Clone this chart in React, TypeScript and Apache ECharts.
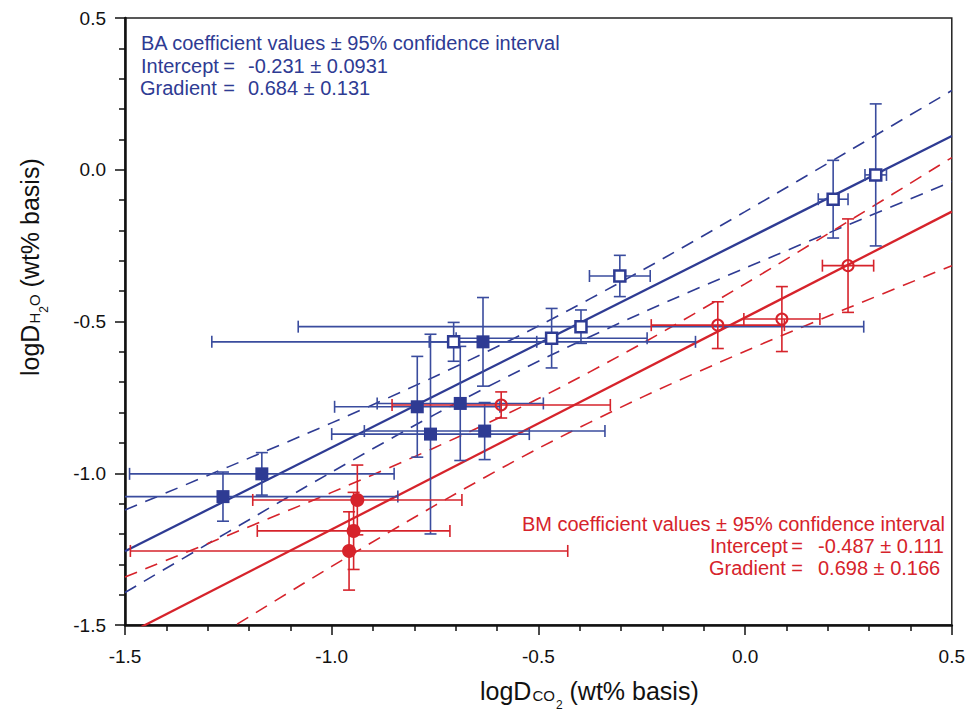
import React, { useEffect, useRef } from 'react';
import * as echarts from 'echarts';

const BLUE = '#2e3b93';
const BLUE_BAR = '#3a4c9e';
const RED = '#d6232b';
const FONT = '"Liberation Sans", Arial, sans-serif';

// Axis ticks
const xMin = -1.5, xMax = 0.5, yMin = -1.5, yMax = 0.5, tickStep = 0.5;

// BA filled squares: x, y, x-error, y-error
const baFilledX = [-1.263, -1.169, -0.793, -0.689, -0.761, -0.630, -0.634];
const baFilledY = [-1.077, -1.002, -0.781, -0.770, -0.871, -0.861, -0.567];
const baFilledXErr = [0.423, 0.320, 0.200, 0.201, 0.239, 0.291, 0.130];
const baFilledYErr = [0.081, 0.070, 0.166, 0.188, 0.329, 0.094, 0.146];

// BA open squares
const baOpenX = [-0.705, -0.468, -0.397, -0.303, 0.213, 0.316];
const baOpenY = [-0.567, -0.555, -0.517, -0.350, -0.097, -0.017];
const baOpenXErr = [0.585, 0.231, 0.684, 0.0735, 0.036, 0.026];
const baOpenYErr = [0.064, 0.098, 0.055, 0.068, 0.128, 0.234];

// BM filled circles
const bmFilledX = [-0.938, -0.947, -0.958];
const bmFilledY = [-1.088, -1.190, -1.256];
const bmFilledXErr = [0.253, 0.233, 0.529];
const bmFilledYErr = [0.115, 0.127, 0.129];

// BM open circles
const bmOpenX = [-0.590, -0.066, 0.089, 0.249];
const bmOpenY = [-0.775, -0.512, -0.492, -0.316];
const bmOpenXErr = [0.264, 0.161, 0.092, 0.062];
const bmOpenYErr = [0.043, 0.077, 0.107, 0.154];

// Regression coefficients (as printed)
const baIntercept = -0.231, baGradient = 0.684;
const bmIntercept = -0.487, bmGradient = 0.698;

// 95% confidence bands
const bandX = [-1.5, -1.25, -1.0, -0.75, -0.5, -0.25, 0, 0.25, 0.5];
const baUpper = [-1.121, -0.979, -0.834, -0.681, -0.515, -0.332, -0.138, 0.061, 0.261];
const baLower = [-1.393, -1.193, -0.996, -0.806, -0.631, -0.472, -0.324, -0.181, -0.039];
const bmUpper = [-1.342, -1.204, -1.063, -0.915, -0.754, -0.573, -0.376, -0.170, 0.040];
const bmLower = [-1.726, -1.515, -1.307, -1.106, -0.918, -0.750, -0.598, -0.455, -0.316];

const zip4 = (a: number[], b: number[], c: number[], d: number[]) => a.map((v, i) => [v, b[i], c[i], d[i]]);
const zip2 = (a: number[], b: number[]) => a.map((v, i) => [v, b[i]]);

const errRender = (color: string) => (params: any, api: any) => {
  const x = api.value(0), y = api.value(1), xe = api.value(2), ye = api.value(3);
  const c = api.coord([x, y]);
  const l = api.coord([x - xe, y]);
  const r = api.coord([x + xe, y]);
  const t = api.coord([x, y + ye]);
  const b = api.coord([x, y - ye]);
  const cap = 6;
  const style = { stroke: color, lineWidth: 1.6, fill: 'none' };
  const ln = (x1: number, y1: number, x2: number, y2: number) => ({ type: 'line', shape: { x1, y1, x2, y2 }, style });
  return {
    type: 'group',
    children: [
      ln(l[0], c[1], r[0], c[1]),
      ln(l[0], c[1] - cap, l[0], c[1] + cap),
      ln(r[0], c[1] - cap, r[0], c[1] + cap),
      ln(c[0], t[1], c[0], b[1]),
      ln(c[0] - cap, t[1], c[0] + cap, t[1]),
      ln(c[0] - cap, b[1], c[0] + cap, b[1]),
    ],
  };
};

export default function App() {
  const ref = useRef<HTMLDivElement>(null);
  useEffect(() => {
    const chart = echarts.init(ref.current!, null, { renderer: 'svg' });
    const ctx = document.createElement('canvas').getContext('2d')!;
    const mw = (t: string, fs: number) => { ctx.font = `${fs}px "Liberation Sans"`; return ctx.measureText(t).width; };

    const titleParts = (parts: { t: string; fs: number; dy: number; gap?: number }[]) => {
      let x = 0;
      return parts.map((p) => {
        const el = {
          type: 'text', x, y: p.dy,
          style: { text: p.t, fontSize: p.fs, fontFamily: FONT, fill: '#111', align: 'left', verticalAlign: 'middle' },
        };
        x += mw(p.t, p.fs) + (p.gap || 0);
        return el;
      });
    };

    const txt = (text: string, x: number, y: number, color: string, align = 'left') => ({
      type: 'text', x, y,
      style: { text, fontSize: 20, fontFamily: FONT, fill: color, align, verticalAlign: 'middle' },
    });

    const regLine = (a: number, g: number) => [[xMin, a + g * xMin], [xMax, a + g * xMax]];
    const axisCommon = {
      axisLine: { show: true, onZero: false, lineStyle: { color: '#111', width: 2.5 } },
      axisTick: { show: true, length: 10, inside: false, lineStyle: { color: '#111', width: 1.5 } },
      minorTick: { show: true, splitNumber: 5, length: 6, lineStyle: { color: '#111', width: 1.5 } },
      splitLine: { show: false },
    };

    const option: any = {
      animation: false,
      backgroundColor: '#fff',
      grid: { left: 125, top: 18, width: 830, height: 607, show: true, borderColor: '#222', borderWidth: 1.5, backgroundColor: 'transparent' },
      xAxis: {
        type: 'value', min: xMin, max: xMax, interval: tickStep, ...axisCommon,
        axisLabel: { formatter: (v: number) => v.toFixed(1), fontSize: 19, fontFamily: FONT, color: '#111', margin: 22 },
      },
      yAxis: {
        type: 'value', min: yMin, max: yMax, interval: tickStep, ...axisCommon,
        axisLabel: { formatter: (v: number) => v.toFixed(1), fontSize: 19, fontFamily: FONT, color: '#111', margin: 19 },
      },
      series: [
        { type: 'line', data: zip2(bandX, baUpper), smooth: 0.3, symbol: 'none', silent: true, clip: true, z: 2, lineStyle: { color: BLUE, width: 1.6, type: [13, 9] } },
        { type: 'line', data: zip2(bandX, baLower), smooth: 0.3, symbol: 'none', silent: true, clip: true, z: 2, lineStyle: { color: BLUE, width: 1.6, type: [13, 9] } },
        { type: 'line', data: zip2(bandX, bmUpper), smooth: 0.3, symbol: 'none', silent: true, clip: true, z: 2, lineStyle: { color: RED, width: 1.6, type: [13, 9] } },
        { type: 'line', data: zip2(bandX, bmLower), smooth: 0.3, symbol: 'none', silent: true, clip: true, z: 2, lineStyle: { color: RED, width: 1.6, type: [13, 9] } },
        { type: 'line', data: regLine(baIntercept, baGradient), symbol: 'none', silent: true, clip: true, z: 3, lineStyle: { color: BLUE, width: 2.3 } },
        { type: 'line', data: regLine(bmIntercept, bmGradient), symbol: 'none', silent: true, clip: true, z: 3, lineStyle: { color: RED, width: 2.3 } },
        { type: 'custom', renderItem: errRender(BLUE_BAR), data: zip4(baFilledX, baFilledY, baFilledXErr, baFilledYErr), encode: { x: 0, y: 1 }, clip: true, silent: true, z: 4 },
        { type: 'custom', renderItem: errRender(BLUE_BAR), data: zip4(baOpenX, baOpenY, baOpenXErr, baOpenYErr), encode: { x: 0, y: 1 }, clip: true, silent: true, z: 4 },
        { type: 'custom', renderItem: errRender(RED), data: zip4(bmFilledX, bmFilledY, bmFilledXErr, bmFilledYErr), encode: { x: 0, y: 1 }, clip: true, silent: true, z: 4 },
        { type: 'custom', renderItem: errRender(RED), data: zip4(bmOpenX, bmOpenY, bmOpenXErr, bmOpenYErr), encode: { x: 0, y: 1 }, clip: true, silent: true, z: 4 },
        { type: 'scatter', data: zip2(baFilledX, baFilledY), symbol: 'rect', symbolSize: 13, silent: true, z: 6, itemStyle: { color: BLUE, opacity: 1 } },
        { type: 'scatter', data: zip2(baOpenX, baOpenY), symbol: 'rect', symbolSize: 11, silent: true, z: 6, itemStyle: { color: '#fff', borderColor: BLUE, borderWidth: 2.5, opacity: 1 } },
        { type: 'scatter', data: zip2(bmFilledX, bmFilledY), symbol: 'circle', symbolSize: 14, silent: true, z: 6, itemStyle: { color: RED, opacity: 1 } },
        { type: 'scatter', data: zip2(bmOpenX, bmOpenY), symbol: 'circle', symbolSize: 11, silent: true, z: 6, itemStyle: { color: 'rgba(0,0,0,0)', borderColor: RED, borderWidth: 2, opacity: 1 } },
      ],
      graphic: [
        txt('BA coefficient values \u00b1 95% confidence interval', 141, 43, BLUE),
        txt('Intercept', 141, 66, BLUE),
        txt('=', 229, 66, BLUE, 'center'),
        txt('-0.231 \u00b1 0.0931', 248, 66, BLUE),
        txt('Gradient', 140, 88, BLUE),
        txt('=', 229, 88, BLUE, 'center'),
        txt('0.684 \u00b1 0.131', 248, 88, BLUE),
        txt('BM coefficient values \u00b1 95% confidence interval', 945, 524, RED, 'right'),
        txt('Intercept', 710, 546, RED),
        txt('=', 797, 546, RED, 'center'),
        txt('-0.487 \u00b1 0.111', 818, 546, RED),
        txt('Gradient', 709, 568, RED),
        txt('=', 797, 568, RED, 'center'),
        txt('0.698 \u00b1 0.166', 818, 568, RED),
        {
          type: 'group', x: 480, y: 691,
          children: titleParts([
            { t: 'logD', fs: 25, dy: 0, gap: 1 },
            { t: 'CO', fs: 15, dy: 4, gap: 1 },
            { t: '2', fs: 12, dy: 14 },
            { t: ' (wt% basis)', fs: 25, dy: 0 },
          ]),
        },
        {
          type: 'group', x: 30, y: 376, rotation: Math.PI / 2,
          children: titleParts([
            { t: 'logD', fs: 25, dy: 0, gap: 1 },
            { t: 'H', fs: 15, dy: 4, gap: 0 },
            { t: '2', fs: 12, dy: 14, gap: 0 },
            { t: 'O', fs: 15, dy: 4 },
            { t: ' (wt% basis)', fs: 25, dy: 0 },
          ]),
        },
      ],
    };
    chart.setOption(option);
    return () => chart.dispose();
  }, []);
  return <div ref={ref} style={{ position: 'fixed', left: 0, top: 0, width: 968, height: 717, background: '#fff' }} />;
}
